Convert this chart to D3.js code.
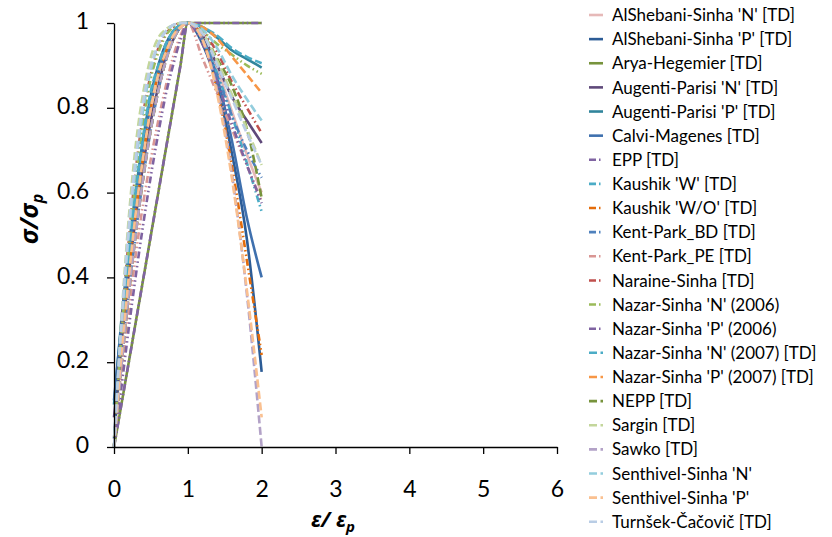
<!DOCTYPE html>
<html><head><meta charset="utf-8">
<script src="https://cdn.jsdelivr.net/npm/d3@7"></script>
<style>
html,body{margin:0;padding:0;background:#fff;}
svg{display:block;font-family:Lato,"Open Sans",sans-serif;}
</style></head>
<body><svg id="c" width="832" height="537"></svg>
<script>
const xValues = [0,0.1,0.2,0.3,0.4,0.5,0.6,0.7,0.8,0.9,1,1.2,1.4,1.6,1.8,2];
const seriesNames = ["AlShebani-Sinha 'N' [TD]","AlShebani-Sinha 'P' [TD]","Arya-Hegemier [TD]","Augenti-Parisi 'N' [TD]","Augenti-Parisi 'P' [TD]","Calvi-Magenes [TD]","EPP [TD]","Kaushik 'W' [TD]","Kaushik 'W/O' [TD]","Kent-Park_BD [TD]","Kent-Park_PE [TD]","Naraine-Sinha [TD]","Nazar-Sinha 'N' (2006)","Nazar-Sinha 'P' (2006)","Nazar-Sinha 'N' (2007) [TD]","Nazar-Sinha 'P' (2007) [TD]","NEPP [TD]","Sargin [TD]","Sawko [TD]","Senthivel-Sinha 'N'","Senthivel-Sinha 'P'","Turnšek-Čačovič [TD]"];
const seriesColors = ["#E6B9B8","#2C5C96","#77933C","#5F497A","#31859C","#3F70AE","#8064A2","#4BACC6","#E46C0A","#4F81BD","#D99694","#C0504D","#9BBB59","#7F63A1","#4BACC6","#F79646","#77933C","#C3D69B","#B3A2C7","#93CDDD","#FAC090","#B9CDE5"];
const seriesStyles = ["solid","solid","solid","solid","solid","solid","dot","dot","dot","dot","dot","dot","dot","dot","dash","dash","dash","dash","dash","dash","dash","dash"];
const sAlShebaniN = [0,.24,.43,.59,.72,.82,.89,.94,.98,.995,1,.97,.89,.79,.69,.6];
const sAlShebaniP = [.02,.25,.44,.6,.73,.83,.9,.95,.98,.995,1,.95,.85,.69,.49,.177];
const sArya = [0,.1,.2,.3,.4,.5,.6,.7,.8,.9,1,1,1,1,1,1];
const sAugentiN = [.07,.25,.41,.55,.67,.77,.85,.92,.96,.99,1,.97,.9,.825,.77,.717];
const sAugentiP = [.1,.3,.47,.61,.73,.82,.89,.94,.98,.995,1,.99,.965,.935,.915,.895];
const sCalvi = [.11,.29,.45,.59,.71,.81,.88,.94,.975,.995,1,.96,.87,.72,.54,.40];
const sEPP = [0,.1,.2,.3,.4,.5,.6,.7,.8,.9,1,1,1,1,1,1];
const sKaushikW = [0,.24,.43,.59,.72,.82,.89,.94,.98,.995,1,.96,.88,.78,.67,.555];
const sKaushikWO = [0,.22,.4,.56,.69,.8,.88,.93,.97,.99,1,.96,.84,.66,.44,.217];
const sKentBD = [0,.19,.36,.51,.64,.75,.84,.91,.96,.99,1,.96,.875,.78,.7,.635];
const sKentPE = [0,.17,.32,.46,.58,.68,.77,.85,.92,.97,1,.916,.832,.748,.664,.58];
const sNaraine = [0,.27,.49,.66,.79,.88,.94,.975,.99,1,1,.98,.93,.86,.8,.74];
const sNazarN06 = [0,.26,.47,.64,.77,.87,.93,.97,.99,1,1,.98,.95,.925,.9,.88];
const sNazarP06 = [0,.14,.28,.41,.53,.64,.74,.83,.9,.96,1,.95,.86,.76,.665,.575];
const sNazarN07 = [0,.25,.45,.61,.74,.84,.9,.95,.98,.995,1,.99,.97,.94,.92,.905];
const sNazarP07 = [0,.19,.36,.51,.64,.75,.84,.91,.96,.99,1,.99,.963,.92,.878,.835];
const sNEPP = [0,.19,.36,.51,.64,.75,.84,.91,.96,.99,1,.975,.915,.85,.75,.587];
const sSargin = [0,.3,.54,.72,.84,.92,.965,.985,.995,1,1,.975,.91,.83,.75,.665];
const sSawko = [0,.19,.36,.51,.64,.75,.84,.91,.96,.99,1,.96,.84,.64,.36,0];
const sSenthivelN = [0,.28,.5,.67,.8,.89,.95,.98,.995,1,1,.985,.94,.875,.82,.77];
const sSenthivelP = [0,.22,.4,.56,.69,.8,.88,.93,.97,.99,1,.96,.83,.63,.37,.07];
const sTurnsek = [0,.29,.52,.69,.82,.9,.95,.98,.995,1,1,.975,.9,.82,.74,.665];
const seriesValues = [sAlShebaniN,sAlShebaniP,sArya,sAugentiN,sAugentiP,sCalvi,sEPP,sKaushikW,sKaushikWO,sKentBD,sKentPE,sNaraine,sNazarN06,sNazarP06,sNazarN07,sNazarP07,sNEPP,sSargin,sSawko,sSenthivelN,sSenthivelP,sTurnsek];
const xTicks = [0,1,2,3,4,5,6];
const yTicks = [0,0.2,0.4,0.6,0.8,1];

const svg = d3.select("#c");
const x = d3.scaleLinear().domain([0,6]).range([114,557]);
const y = d3.scaleLinear().domain([0,1]).range([447,23]);
const dashFor = s => s==="solid" ? null : (s==="dot" ? "7,3,1.5,3,1.5,3" : "8,3.5");

const line = d3.line().x(d=>x(d[0])).y(d=>y(d[1])).curve(d3.curveMonotoneX);
const gLines = svg.append("g");
seriesValues.forEach((vals,i)=>{
  gLines.append("path")
    .attr("d", line(xValues.map((xv,j)=>[xv, vals[j]])))
    .attr("fill","none")
    .attr("stroke", seriesColors[i])
    .attr("stroke-width", 2.6)
    .attr("stroke-dasharray", dashFor(seriesStyles[i]));
});

// axes
const xAxis = svg.append("g").attr("transform","translate(0,447)")
  .call(d3.axisBottom(x).tickValues(xTicks).tickSize(7).tickSizeOuter(0).tickPadding(10).tickFormat(d3.format("d")));
const yAxis = svg.append("g").attr("transform","translate(114,0)")
  .call(d3.axisLeft(y).tickValues(yTicks).tickSize(7).tickSizeOuter(0).tickPadding(18).tickFormat(d=>d===0?"0":(d===1?"1":d3.format(".1f")(d))));
[xAxis,yAxis].forEach(g=>{
  g.selectAll("path.domain").attr("stroke","#000").attr("stroke-width",1.3);
  g.selectAll(".tick line").attr("stroke","#000").attr("stroke-width",1.3);
  g.selectAll(".tick text").attr("font-family","Lato, 'Open Sans', sans-serif").attr("font-size",23).attr("fill","#000");
});
xAxis.selectAll(".tick text").attr("y",50).attr("dy",null);
yAxis.selectAll(".tick text").attr("dy","0.25em");

// axis titles
const xt = svg.append("text").attr("x",333).attr("y",527).attr("text-anchor","middle")
  .attr("font-family","'Noto Sans', 'DejaVu Sans', sans-serif").attr("font-weight","bold").attr("font-style","italic").attr("font-size",22).attr("fill","#000");
xt.append("tspan").text("ε/ ε");
xt.append("tspan").attr("font-size",15).attr("dy",5).text("p");
const yt = svg.append("text").attr("transform","translate(38,219) rotate(-90)").attr("text-anchor","middle")
  .attr("font-family","'Noto Sans', 'DejaVu Sans', sans-serif").attr("font-weight","bold").attr("font-style","italic").attr("font-size",25).attr("fill","#000");
yt.append("tspan").text("σ/σ");
yt.append("tspan").attr("font-size",16).attr("dy",5).text("p");

// legend
const lg = svg.append("g");
seriesNames.forEach((name,i)=>{
  const cy = 15 + i*24.13;
  lg.append("line").attr("x1",589).attr("x2",603).attr("y1",cy).attr("y2",cy)
    .attr("stroke",seriesColors[i]).attr("stroke-width",2.6)
    .attr("stroke-dasharray", dashFor(seriesStyles[i]));
  lg.append("text").attr("x",612).attr("y",cy).attr("dy","0.36em")
    .attr("font-size",17).attr("fill","#000").text(name);
});
</script></body></html>
